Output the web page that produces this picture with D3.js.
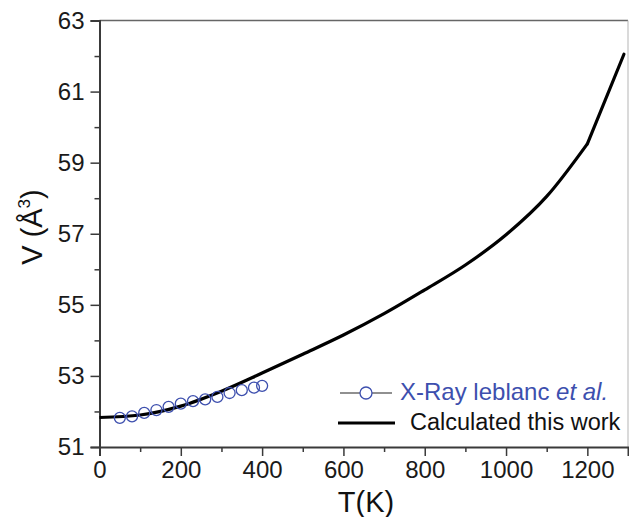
<!DOCTYPE html>
<html>
<head>
<meta charset="utf-8">
<script src="https://cdn.jsdelivr.net/npm/d3@7"></script>
<style>
  body { margin: 0; background: #fff; }
  svg { display: block; font-family: Arial, "Liberation Sans", sans-serif; }
</style>
</head>
<body>
<svg id="chart" width="629" height="517"></svg>
<script>
// ---- data ----
const calcT = [0, 100, 200, 300, 400, 500, 600, 700, 800, 900, 1000, 1100, 1200, 1290];
const calcV = [51.83, 51.90, 52.15, 52.57, 53.08, 53.61, 54.15, 54.75, 55.42, 56.12, 56.97, 58.05, 59.53, 62.05];
const xrayT = [50, 80, 110, 140, 170, 200, 230, 260, 290, 320, 350, 380, 400];
const xrayV = [51.82, 51.86, 51.96, 52.04, 52.13, 52.22, 52.29, 52.34, 52.41, 52.52, 52.60, 52.67, 52.72];
const xMajorTicks = [0, 200, 400, 600, 800, 1000, 1200];
const xMinorTicks = [100, 300, 500, 700, 900, 1100];
const yMajorTicks = [51, 53, 55, 57, 59, 61, 63];
const yMinorTicks = [52, 54, 56, 58, 60, 62];
const seriesNames = ["X-Ray leblanc ", "et al.", "Calculated this work"];

const svg = d3.select("#chart");
const x = d3.scaleLinear().domain([0, 1300]).range([99.5, 628]);
const y = d3.scaleLinear().domain([51, 63]).range([447, 20.5]);

const axisColor = "#3a3a3a";
const blue = "#3d4fae";

// frame (top and right)
svg.append("line").attr("x1", x(0)).attr("x2", x(1300)).attr("y1", y(63)).attr("y2", y(63))
  .attr("stroke", "#666").attr("stroke-width", 1.5);
svg.append("line").attr("x1", x(1300)).attr("x2", x(1300)).attr("y1", y(63)).attr("y2", y(51))
  .attr("stroke", "#b5b5b5").attr("stroke-width", 1);

// x axis
const gx = svg.append("g").attr("transform", `translate(0,${y(51)})`);
gx.call(d3.axisBottom(x).tickValues(xMajorTicks).tickSize(9).tickPadding(5).tickFormat(d3.format("d")));
gx.append("g").call(d3.axisBottom(x).tickValues(xMinorTicks).tickSize(5).tickFormat(""));
gx.selectAll(".domain").attr("stroke", axisColor).attr("stroke-width", 2);
gx.selectAll("g.tick line").attr("stroke", axisColor).attr("stroke-width", 1.5);
gx.selectAll("text").attr("font-size", 24).attr("fill", "#1a1a1a").attr("font-family", "Arial, 'Liberation Sans', sans-serif");
gx.selectAll("g > g .domain").remove();

// y axis
const gy = svg.append("g").attr("transform", `translate(${x(0)},0)`);
gy.call(d3.axisLeft(y).tickValues(yMajorTicks).tickSize(9).tickPadding(6).tickFormat(d3.format("d")));
gy.append("g").call(d3.axisLeft(y).tickValues(yMinorTicks).tickSize(5).tickFormat(""));
gy.selectAll(".domain").attr("stroke", axisColor).attr("stroke-width", 2);
gy.selectAll("g.tick line").attr("stroke", axisColor).attr("stroke-width", 1.5);
gy.selectAll("text").attr("font-size", 24).attr("fill", "#1a1a1a").attr("font-family", "Arial, 'Liberation Sans', sans-serif");
gy.selectAll("g > g .domain").remove();

// calculated curve: smooth up to 1200 K, straight segment after (kink as in reference)
const calc = calcT.map((t, i) => ({ t, v: calcV[i] }));
const kink = calcT.indexOf(1200);
const smoothPart = calc.slice(0, kink + 1);
const tailPart = calc.slice(kink);
const lineSmooth = d3.line().curve(d3.curveMonotoneX).x(d => x(d.t)).y(d => y(d.v));
const lineStraight = d3.line().x(d => x(d.t)).y(d => y(d.v));
svg.append("path").datum(smoothPart)
  .attr("fill", "none").attr("stroke", "#000").attr("stroke-width", 3.2)
  .attr("stroke-linejoin", "round").attr("d", lineSmooth);
svg.append("path").datum(tailPart)
  .attr("fill", "none").attr("stroke", "#000").attr("stroke-width", 3.2)
  .attr("stroke-linejoin", "round").attr("stroke-linecap", "round").attr("d", lineStraight);

// xray points
const xray = xrayT.map((t, i) => ({ t, v: xrayV[i] }));
svg.append("g").selectAll("circle").data(xray).join("circle")
  .attr("cx", d => x(d.t)).attr("cy", d => y(d.v)).attr("r", 5.5)
  .attr("fill", "none").attr("stroke", blue).attr("stroke-width", 1.3);

// legend
const lg = svg.append("g");
lg.append("line").attr("x1", 340).attr("x2", 392).attr("y1", 393).attr("y2", 393)
  .attr("stroke", "#222").attr("stroke-width", 1.2);
lg.append("circle").attr("cx", 366).attr("cy", 393).attr("r", 6)
  .attr("fill", "#fff").attr("stroke", blue).attr("stroke-width", 1.3);
const t1 = lg.append("text").attr("x", 400).attr("y", 400).attr("font-size", 24).attr("fill", blue);
t1.append("tspan").text(seriesNames[0]);
t1.append("tspan").attr("font-style", "italic").text(seriesNames[1]);
lg.append("line").attr("x1", 338).attr("x2", 395).attr("y1", 423).attr("y2", 423)
  .attr("stroke", "#000").attr("stroke-width", 3.2);
lg.append("text").attr("x", 410).attr("y", 430).attr("font-size", 23.5).attr("fill", "#111")
  .text(seriesNames[2]);

// axis titles
svg.append("text").attr("x", 366).attr("y", 512).attr("text-anchor", "middle")
  .attr("font-size", 29).attr("fill", "#111").text("T(K)");
const yt = svg.append("text").attr("transform", "translate(42,227) rotate(-90)")
  .attr("text-anchor", "middle").attr("font-size", 29).attr("fill", "#111");
yt.append("tspan").text("V (Å");
yt.append("tspan").attr("font-size", 17).attr("dy", -12).text("3");
yt.append("tspan").attr("dy", 12).text(")");
</script>
</body>
</html>
